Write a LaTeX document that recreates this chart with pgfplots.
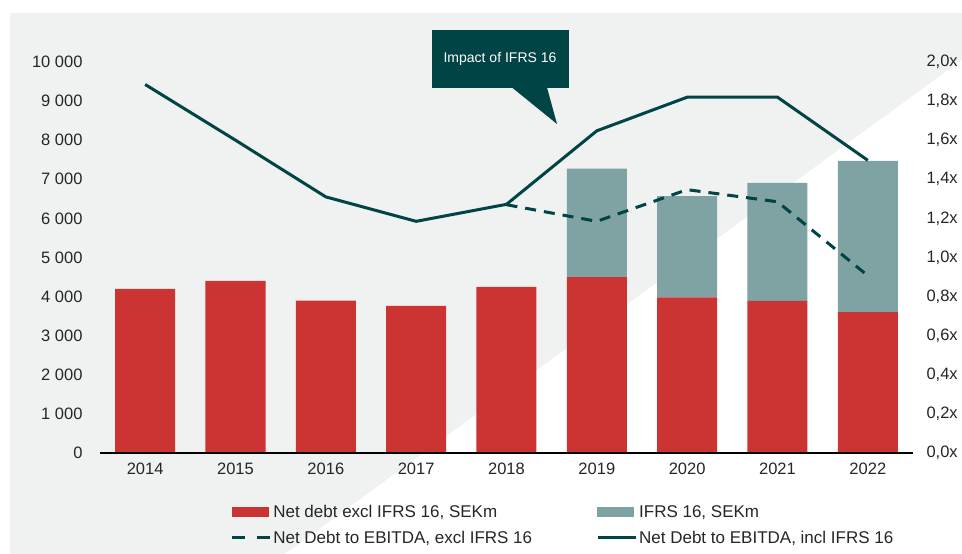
\documentclass[border=0pt]{standalone}
\usepackage{pgfplots}
\pgfplotsset{compat=1.18}
\usepackage{fontspec}
\setmainfont{Liberation Sans}
\definecolor{barred}{HTML}{CC3333}
\definecolor{barteal}{HTML}{7FA2A3}
\definecolor{dteal}{HTML}{004446}
\definecolor{bggray}{HTML}{F0F1F1}
\begin{document}
\begin{tikzpicture}
\fill[white] (0,0) rectangle (962bp,554bp);
\fill[bggray] (10bp,0) rectangle (962bp,541bp);
\fill[white] (285bp,0) -- (962bp,494bp) -- (962bp,0) -- cycle;
\pgfplotsset{common/.style={width=813bp,height=391bp,scale only axis,
  at={(100bp,101bp)}, anchor=south west, xmin=-0.5, xmax=8.5,
  tick style={draw=none}, major tick length=0pt, scaled y ticks=false,
  tick label style={font=\fontsize{16.5bp}{19bp}\selectfont, text=black!85}}}
\begin{axis}[common, ymin=0, ymax=10000, ybar stacked, bar width=60bp,
  axis on top,
  axis x line*=bottom, axis y line*=left,
  y axis line style={draw=none}, x axis line style={black, line width=1.5bp},
  xtick={0,...,8}, xticklabels={2014,2015,2016,2017,2018,2019,2020,2021,2022},
  ytick={0,1000,...,10000},
  yticklabels={0,1 000,2 000,3 000,4 000,5 000,6 000,7 000,8 000,9 000,10 000},
  yticklabel style={xshift=-14bp}, xticklabel style={yshift=-6bp}]
\addplot[fill=barred, draw=none] coordinates {(0,4200) (1,4400) (2,3900) (3,3760) (4,4250) (5,4500) (6,3980) (7,3890) (8,3600)};
\addplot[fill=barteal, draw=none] coordinates {(0,0) (1,0) (2,0) (3,0) (4,0) (5,2770) (6,2590) (7,3020) (8,3870)};
\end{axis}
\begin{axis}[common, ymin=0, ymax=2,
  axis x line=none, axis y line*=right, y axis line style={draw=none},
  ytick={0,0.2,...,2.01},
  yticklabels={{0,0x},{0,2x},{0,4x},{0,6x},{0,8x},{1,0x},{1,2x},{1,4x},{1,6x},{1,8x},{2,0x}},
  yticklabel style={xshift=10bp},
  legend columns=2, legend cell align=left,
  legend style={draw=none, fill=none, inner sep=0pt, at={(0.16,-0.128)}, anchor=north west,
    font=\fontsize{17bp}{20bp}\selectfont, text=black!85, row sep=8bp,
    nodes={inner sep=2bp},
    /tikz/every even column/.append style={column sep=62bp}}]
\addlegendimage{legend image code/.code={\fill[barred] (0bp,-4.5bp) rectangle (36bp,4.5bp);}}
\addlegendentry{Net debt excl IFRS 16, SEKm}
\addlegendimage{legend image code/.code={\fill[barteal] (0bp,-4.5bp) rectangle (36bp,4.5bp);}}
\addlegendentry{IFRS 16, SEKm}
\addplot[dteal, line width=3bp, dash pattern=on 11bp off 8bp, no marks,
  legend image code/.code={\draw[dteal, line width=3bp, dash pattern=on 13bp off 12bp] (0bp,0bp) -- (38bp,0bp);}]
  coordinates {(4,1.27) (5,1.185) (6,1.347) (7,1.285) (8,0.907)};
\addlegendentry{Net Debt to EBITDA, excl IFRS 16}
\addplot[dteal, line width=3bp, no marks,
  legend image code/.code={\draw[dteal, line width=3bp] (0bp,0bp) -- (38bp,0bp);}]
  coordinates {(0,1.885) (1,1.60) (2,1.31) (3,1.185) (4,1.272) (5,1.648) (6,1.82) (7,1.82) (8,1.497)};
\addlegendentry{Net Debt to EBITDA, incl IFRS 16}
\end{axis}
\fill[dteal] (432bp,466bp) rectangle (569bp,524bp);
\fill[dteal] (512bp,466.5bp) -- (547bp,466.5bp) -- (557bp,430bp) -- cycle;
\node[text=white, font=\fontsize{14bp}{16bp}\selectfont] at (500bp,495bp) {Impact of IFRS 16};
\pgfresetboundingbox
\path[use as bounding box] (0,0) rectangle (962bp,554bp);
\end{tikzpicture}
\end{document}
